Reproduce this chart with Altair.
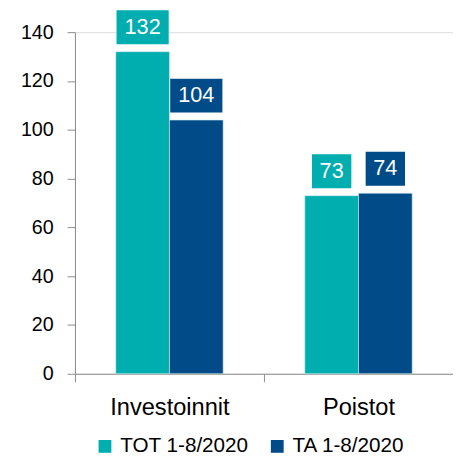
import altair as alt
import pandas as pd

categories = ["Investoinnit", "Poistot"]
series = ["TOT 1-8/2020", "TA 1-8/2020"]
tot_values = [132, 73]
ta_values = [104, 74]
y_ticks = [0, 20, 40, 60, 80, 100, 120, 140]
colors = ["#00AEB0", "#004B88"]

rows = []
for c, a, b in zip(categories, tot_values, ta_values):
    rows.append({"category": c, "series": series[0], "value": a, "label": str(a)})
    rows.append({"category": c, "series": series[1], "value": b, "label": str(b)})
df = pd.DataFrame(rows)

FONT = "Liberation Sans"
GRAY = "#8c8c8c"

x = alt.X(
    "category:N",
    sort=categories,
    scale=alt.Scale(paddingInner=0, paddingOuter=0),
    axis=alt.Axis(
        title=None, labelAngle=0, tickBand="extent", domainColor=GRAY,
        tickColor=GRAY, tickSize=8, labelFontSize=24, labelPadding=14,
        labelColor="#000000", labelFont=FONT,
    ),
)
xo = alt.XOffset("series:N", sort=series,
                 scale=alt.Scale(paddingInner=0, paddingOuter=0.76))
y = alt.Y(
    "value:Q",
    scale=alt.Scale(domain=[0, 140], nice=False),
    axis=alt.Axis(
        title=None, values=y_ticks, grid=False, domainColor=GRAY,
        tickColor=GRAY, tickSize=8, labelPadding=14, labelFontSize=20,
        labelColor="#000000", labelFont=FONT,
    ),
)
color = alt.Color(
    "series:N",
    sort=series,
    scale=alt.Scale(domain=series, range=colors),
    legend=alt.Legend(
        orient="none", legendX=20, legendY=410, direction="horizontal",
        title=None, symbolType="square", symbolSize=169, symbolStrokeWidth=0,
        labelFontSize=21, labelFont=FONT, labelColor="#000000",
        labelOffset=5, columnPadding=18, labelLimit=300,
    ),
)

base = alt.Chart(df)
bars = base.mark_bar(stroke="#d8f0f0", strokeWidth=0.6).encode(
    x=x, xOffset=xo, y=y, color=color
)

layers = [bars]
for n in [2, 3]:
    box = base.transform_filter(f"length(datum.label) == {n}").mark_bar(
        width=13 * n + 14, yOffset=-7.5, y2Offset=-42
    ).encode(x=x, xOffset=xo, y=y, y2=alt.Y2("value:Q"), color=color)
    layers.append(box)

text = base.mark_text(
    dy=-25, color="white", fontSize=22, font=FONT, baseline="middle"
).encode(x=x, xOffset=xo, y=y, text="label:N")
layers.append(text)

chart = alt.layer(*layers).properties(
    width=384,
    height=347,
    autosize=alt.AutoSizeParams(type="none"),
    padding={"left": 68, "top": 21, "right": 0, "bottom": 82},
).configure_view(stroke=None).configure(font=FONT)

chart.save("out.html", embed_options={"renderer": "svg", "actions": False})
